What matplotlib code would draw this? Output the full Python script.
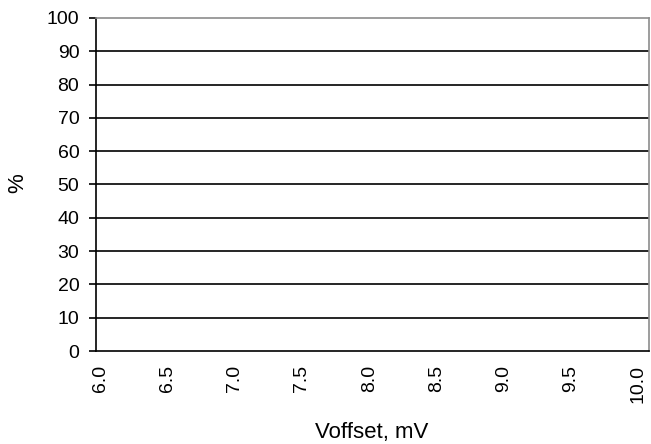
import matplotlib
matplotlib.use('Agg')
import matplotlib.pyplot as plt

# chart has axes only, no series plotted
x_ticks = [6.0, 6.5, 7.0, 7.5, 8.0, 8.5, 9.0, 9.5, 10.0]
x_tick_labels = ['6.0', '6.5', '7.0', '7.5', '8.0', '8.5', '9.0', '9.5', '10.0']
y_ticks = [0, 10, 20, 30, 40, 50, 60, 70, 80, 90, 100]
x_label = 'Voffset, mV'
y_label = '%'

plt.rcParams['font.family'] = ['Liberation Sans', 'DejaVu Sans']

fig = plt.figure(figsize=(6.51, 4.44), dpi=100)
fig.patch.set_facecolor('white')
ax = fig.add_axes([96 / 651, 1 - 351 / 444, (649 - 96) / 651, (351 - 18) / 444])

ax.set_xlim(5.97, 10.08)
ax.set_ylim(0, 100)

# horizontal grid lines
for y in y_ticks[1:-1]:
    ax.axhline(y, color='black', linewidth=1.2, zorder=1)

ax.spines['left'].set_color('black')
ax.spines['bottom'].set_color('black')
ax.spines['left'].set_linewidth(1.2)
ax.spines['bottom'].set_linewidth(1.2)
ax.spines['top'].set_color('#8c8c8c')
ax.spines['right'].set_color('#8c8c8c')
ax.spines['top'].set_linewidth(1.2)
ax.spines['right'].set_linewidth(1.2)

ax.set_yticks(y_ticks)
ax.set_yticklabels([str(v) for v in y_ticks], fontsize=14)
ax.tick_params(axis='y', length=5, width=1.2, direction='out', pad=7)

ax.set_xticks(x_ticks)
ax.set_xticklabels(x_tick_labels, fontsize=14, rotation=90, va='top')
ax.tick_params(axis='x', length=0, pad=10)

fig.text(372 / 651, 1 - 432 / 444, x_label, fontsize=16, ha='center', va='center')
fig.text(18 / 651, 1 - 183 / 444, y_label, fontsize=16, ha='center', va='center', rotation=90)

fig.savefig('out.png', dpi=100)
